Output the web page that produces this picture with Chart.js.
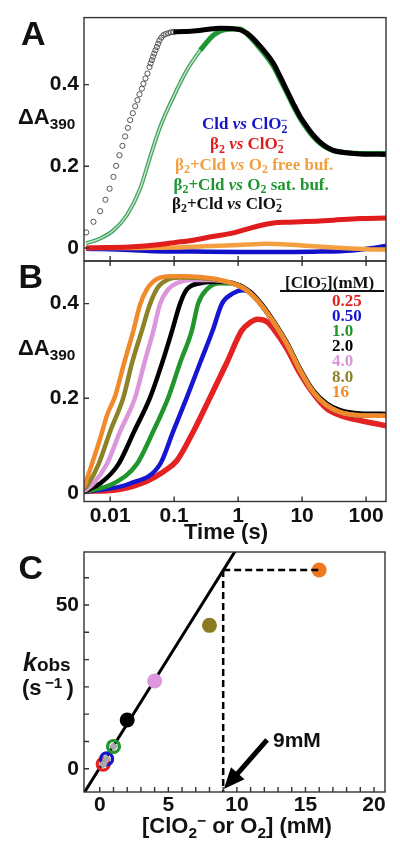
<!DOCTYPE html>
<html><head><meta charset="utf-8">
<script src="https://cdn.jsdelivr.net/npm/chart.js@4.4.1/dist/chart.umd.min.js"></script>
<style>
html,body{margin:0;padding:0;background:#fff;}
#wrap{position:relative;width:400px;height:846px;overflow:hidden;background:#fff;}
canvas{position:absolute;left:0;top:0;width:400px;height:846px;}
.t{position:absolute;white-space:nowrap;line-height:1;transform:translateY(-50%);font-family:"Liberation Sans",Arial,sans-serif;font-weight:bold;color:#111;}
.c{transform:translate(-50%,-50%);}
.s{font-family:"Liberation Serif","Times New Roman",serif;font-size:17px;}
.t sub,.t sup{font-size:0.7em;line-height:0;vertical-align:baseline;position:relative;}
.t sub{top:0.3em;}
.t sup{top:-0.45em;}
.m{margin-left:-0.55em;}
</style></head><body><div id="wrap">
<canvas id="cA" width="400" height="846"></canvas>
<canvas id="cB" width="400" height="846"></canvas>
<canvas id="cC" width="400" height="846"></canvas>

<div class="t" style="left:21px;top:33px;font-size:34px">A</div>
<div class="t" style="left:18px;top:117px;font-size:22px">ΔA<sub>390</sub></div>
<div class="t s" style="left:202px;top:123px;color:#1414c8">Cld <i>vs</i> ClO<sub>2</sub><sup class="m">−</sup></div>
<div class="t s" style="left:210px;top:143px;color:#dc1e1e">β<sub>2</sub> <i>vs</i> ClO<sub>2</sub><sup class="m">−</sup></div>
<div class="t s" style="left:175px;top:163.5px;color:#f0a040">β<sub>2</sub>+Cld <i>vs</i> O<sub>2</sub> free buf.</div>
<div class="t s" style="left:173.5px;top:183.5px;color:#1e9632">β<sub>2</sub>+Cld <i>vs</i> O<sub>2</sub> sat. buf.</div>
<div class="t s" style="left:172px;top:202.5px;color:#111">β<sub>2</sub>+Cld <i>vs</i> ClO<sub>2</sub><sup class="m">−</sup></div>

<div class="t" style="left:18.5px;top:276px;font-size:34px">B</div>
<div class="t" style="left:18px;top:348px;font-size:22px">ΔA<sub>390</sub></div>
<div class="t s" style="left:285px;top:281.5px;color:#111">[ClO<sub>2</sub><sup class="m">−</sup>](mM)</div>
<div style="position:absolute;left:280px;top:290px;width:104px;height:1.5px;background:#111"></div>
<div id="bLegend"></div>
<div class="t c" style="left:226px;top:532px;font-size:22px">Time (s)</div>

<div class="t" style="left:18.5px;top:567px;font-size:34px">C</div>
<div class="t" style="left:23px;top:662px;font-size:19px"><i style="font-size:25px">k</i>obs</div>
<div class="t" style="left:22px;top:688px;font-size:22px">(s<sup>&thinsp;−1</sup>&thinsp;)</div>
<div class="t" style="left:273px;top:739px;font-size:21px">9mM</div>
<div class="t c" style="left:237px;top:826px;font-size:22px">[ClO<sub>2</sub><sup>−</sup> or O<sub>2</sub>] (mM)</div>
</div>
<script>
// ================= DATA =================
// Panel A & B shared axes
const timeTicks = [0.01, 0.1, 1, 10, 100];
const absTicks = [0, 0.2, 0.4];

// Panel A : [time (s), ΔA390]
const aBlackCircles = [[0.00422,0.038],[0.00548,0.064],[0.00698,0.090],[0.00845,0.118],[0.0098,0.145],[0.01126,0.174],[0.0124,0.201],[0.01397,0.227],[0.01556,0.250],[0.01714,0.273],[0.0189,0.294],[0.02054,0.313],[0.0226,0.330],[0.0246,0.347],[0.0267,0.362],[0.0287,0.376],[0.0313,0.390],[0.0331,0.402],[0.0356,0.415],[0.0383,0.427],[0.0412,0.443],[0.0430,0.452],[0.0448,0.460],[0.0467,0.468],[0.0488,0.476],[0.0511,0.484],[0.0537,0.492],[0.0562,0.500],[0.0589,0.508],[0.0630,0.515],[0.0681,0.521],[0.0740,0.524],[0.0814,0.526],[0.0890,0.528],[0.0976,0.529]];
const aBlackLine = [[0.0976,0.529],[0.14,0.530],[0.2,0.531],[0.324,0.535],[0.523,0.538],[0.845,0.537],[1.37,0.526],[2.21,0.494],[3.56,0.452],[4.53,0.420],[5.77,0.386],[7.31,0.353],[9.31,0.322],[11.8,0.298],[15.0,0.276],[19.1,0.259],[24.3,0.247],[30.8,0.239],[49.9,0.233],[80.6,0.230],[205,0.229]];
const aGreenEarly = [[0.0042,0.011],[0.00698,0.023],[0.01126,0.043],[0.0182,0.080],[0.0294,0.145],[0.0422,0.223],[0.0604,0.296],[0.0976,0.370],[0.158,0.435],[0.255,0.484]];
const aGreenLate = [[0.255,0.484],[0.411,0.521],[0.665,0.535],[1.07,0.536],[1.37,0.524],[2.21,0.488],[3.56,0.445],[4.53,0.413],[5.77,0.380],[7.31,0.347],[9.31,0.317],[11.8,0.293],[15.0,0.272],[19.1,0.256],[24.3,0.245],[30.8,0.238],[49.9,0.233],[80.6,0.231],[205,0.231]];
const aRed = [[0.0042,0.0],[0.01,0.001],[0.023,0.003],[0.05,0.007],[0.1,0.013],[0.2,0.019],[0.4,0.028],[0.85,0.037],[1.37,0.046],[2.21,0.055],[3.56,0.061],[5.77,0.063],[9.31,0.064],[19.1,0.066],[30.8,0.068],[80.6,0.072],[205,0.073]];
const aOrange = [[0.0042,0.0],[0.03,0.0],[0.1,0.001],[0.3,0.004],[1,0.007],[2.8,0.010],[5,0.009],[10,0.006],[30,0.001],[100,-0.003],[205,-0.004]];
const aBlue = [[0.0042,-0.002],[0.02,-0.005],[0.05,-0.008],[0.2,-0.009],[1,-0.010],[5,-0.010],[20,-0.009],[60,-0.006],[120,-0.001],[205,0.005]];

// Panel B : [time (s), ΔA390] per [ClO2-]
const bConc = ['0.25','0.50','1.0','2.0','4.0','8.0','16'];
const bColors = ['#e42222','#1616d2','#22962c','#000000','#dc96dc','#8c8228','#f08a2a'];
const bRed = [[0.0039,0.003],[0.0143,0.008],[0.0374,0.025],[0.0681,0.045],[0.110,0.068],[0.200,0.13],[0.365,0.202],[0.665,0.275],[1.14,0.343],[1.54,0.360],[2.02,0.367],[2.81,0.362],[3.56,0.347],[5.77,0.305],[9.31,0.252],[15.0,0.210],[24.3,0.178],[39.2,0.164],[80.6,0.153],[205,0.142]];
const bBlue = [[0.0039,0.002],[0.0205,0.020],[0.0604,0.061],[0.0966,0.13],[0.158,0.202],[0.255,0.275],[0.40,0.343],[0.56,0.40],[0.845,0.422],[1.15,0.428],[1.54,0.425]];
const bGreen = [[0.0039,0.002],[0.0113,0.020],[0.0261,0.061],[0.047,0.13],[0.0813,0.202],[0.124,0.275],[0.189,0.343],[0.237,0.40],[0.324,0.43],[0.523,0.443],[0.845,0.442]];
const bBlack = [[0.0039,0.003],[0.00698,0.020],[0.0135,0.061],[0.0237,0.13],[0.0422,0.202],[0.065,0.275],[0.093,0.343],[0.124,0.400],[0.158,0.43],[0.255,0.443],[0.523,0.446],[0.845,0.443],[1.37,0.430],[2.21,0.403],[3.56,0.364],[5.77,0.318],[9.31,0.262],[15.0,0.216],[24.3,0.189],[39.2,0.175],[80.6,0.168],[205,0.167]];
const bViolet = [[0.0039,0.004],[0.00548,0.020],[0.00888,0.061],[0.0143,0.13],[0.0246,0.202],[0.0343,0.275],[0.0475,0.343],[0.0604,0.400],[0.0805,0.430],[0.110,0.443],[0.178,0.450],[0.365,0.450],[0.845,0.442]];
const bOlive = [[0.0039,0.008],[0.0046,0.020],[0.0066,0.061],[0.01,0.13],[0.0161,0.202],[0.022,0.275],[0.0313,0.343],[0.0422,0.400],[0.0562,0.435],[0.0769,0.450],[0.124,0.455],[0.255,0.454],[0.523,0.449],[0.845,0.442]];
const bOrange = [[0.0039,0.012],[0.00407,0.019],[0.00518,0.061],[0.00698,0.115],[0.00897,0.165],[0.01197,0.205],[0.01655,0.275],[0.0231,0.343],[0.0294,0.398],[0.0374,0.430],[0.0475,0.447],[0.0604,0.455],[0.0866,0.458],[0.14,0.458],[0.255,0.456],[0.523,0.450],[0.845,0.442]];
const bDecay = [[1.37,0.428],[2.21,0.400],[3.56,0.361],[5.77,0.315],[9.31,0.259],[15.0,0.213],[24.3,0.185],[39.2,0.171],[80.6,0.164],[205,0.163]];

// Panel C : kobs vs concentration
const cConc = [0.25, 0.5, 1, 2, 4, 8, 16];
const cKobs = [1.4, 3.0, 6.8, 14.9, 26.8, 43.8, 60.7];
const cColors = ['#e42222','#1616d2','#22962c','#000000','#dc96dc','#8c7a22','#f07820'];
const cOpen = [true, true, true, false, false, false, false];
const cFit = {slope: 6.7, intercept: 0.3};
const cSaturation = {conc: 9, kobs: 60.7};
const cArrowFrom = [12.2, 8.8];
const cArrowTip = [9.05, -6.2];
const cXLabels = [0, 5, 10, 15, 20];
const cXMinor = [0,1,2,3,4,5,6,7,8,9,10,11,12,13,14,15,16,17,18,19,20];
const cYLabels = [0, 50];
const cYMinor = [0, 8.33, 16.67, 25, 33.33, 41.67, 50, 58.33];

// ================= HELPERS =================
const SANS = "'Liberation Sans', Arial, Helvetica, sans-serif";
const tickFont = {family: SANS, size: 21, weight: 'bold'};
const pts = arr => arr.map(p => ({x: p[0], y: p[1]}));
const withDecay = rise => rise.concat(bDecay.filter(p => p[0] > rise[rise.length - 1][0]));

function line(data, color, width, extra) {
  return Object.assign({data: pts(data), showLine: true, borderColor: color, backgroundColor: color,
    borderWidth: width, pointRadius: 0, fill: false, cubicInterpolationMode: 'monotone'}, extra || {});
}

function frame(cfg) {
  return {
    id: 'frame',
    afterDraw(chart) {
      const {ctx, chartArea: a, scales} = chart;
      ctx.save();
      ctx.strokeStyle = '#333'; ctx.lineWidth = 1.4;
      ctx.strokeRect(a.left, a.top, a.right - a.left, a.bottom - a.top);
      const L = 5;
      ctx.beginPath();
      (cfg.xBottom || []).forEach(v => { const x = scales.x.getPixelForValue(v); ctx.moveTo(x, a.bottom); ctx.lineTo(x, a.bottom - L); });
      (cfg.xTop || []).forEach(v => { const x = scales.x.getPixelForValue(v); ctx.moveTo(x, a.top); ctx.lineTo(x, a.top + L); });
      (cfg.yLeft || []).forEach(v => { const y = scales.y.getPixelForValue(v); ctx.moveTo(a.left, y); ctx.lineTo(a.left + L, y); });
      ctx.stroke();
      ctx.restore();
    }
  };
}

const hidden = {display: false, drawTicks: false};
function yScale(min, max, ticks, cb) {
  return {type: 'linear', min, max,
    afterFit: s => { s.width = 84; },
    afterBuildTicks: s => { s.ticks = ticks.map(v => ({value: v})); },
    ticks: {padding: 5, font: tickFont, color: '#111', callback: cb},
    grid: hidden, border: {display: false}};
}
function xLog(showLabels, h) {
  return {type: 'logarithmic', min: 0.0039, max: 205,
    afterFit: s => { s.height = h; },
    afterBuildTicks: s => { s.ticks = timeTicks.map(v => ({value: v})); },
    ticks: {display: showLabels, padding: 2, font: tickFont, color: '#111', maxRotation: 0, autoSkip: false,
      callback: v => String(v)},
    grid: hidden, border: {display: false}};
}
function baseOptions(scales, pad) {
  return {responsive: false, animation: false, devicePixelRatio: 1, events: [],
    layout: {padding: pad},
    plugins: {legend: {display: false}, tooltip: {enabled: false}},
    scales};
}
const absLabel = v => v === 0 ? '0' : v.toFixed(1);

// ================= PANEL A =================
new Chart(document.getElementById('cA'), {
  type: 'scatter',
  data: {datasets: [
    line(aBlackLine, '#000', 5),
    {data: pts(aBlackCircles), showLine: false, pointStyle: 'circle', pointRadius: 2.6, borderWidth: 0.9,
     borderColor: '#444', backgroundColor: 'rgba(0,0,0,0)'},
    line(aGreenEarly, 'rgba(255,255,255,0.75)', 1.3),
    line(aGreenEarly, 'rgba(40,150,70,0.85)', 4),
    line(aGreenLate, '#1e9632', 5),
    line(aRed, '#e01c1c', 5),
    line(aOrange, '#f5a040', 4.5),
    line(aBlue, '#1010c8', 4.5)
  ]},
  options: baseOptions({x: xLog(false, 0), y: yScale(-0.032, 0.564, absTicks, absLabel)},
    {left: 0, top: 17, right: 14, bottom: 846 - 261}),
  plugins: [frame({xBottom: timeTicks, yLeft: absTicks})]
});

// ================= PANEL B =================
const bSeries = [bRed, withDecay(bBlue), withDecay(bGreen), bBlack, withDecay(bViolet), withDecay(bOlive), withDecay(bOrange)];
const bDatasets = [];
for (let i = bSeries.length - 1; i >= 0; i--) {
  bDatasets.push(line(bSeries[i], bColors[i], i === 0 ? 5.5 : 4.5));
}
new Chart(document.getElementById('cB'), {
  type: 'scatter',
  data: {datasets: bDatasets},
  options: baseOptions({x: xLog(true, 45), y: yScale(-0.018, 0.490, absTicks, absLabel)},
    {left: 0, top: 261, right: 14, bottom: 846 - 501.5 - 45}),
  plugins: [frame({xBottom: timeTicks, xTop: timeTicks, yLeft: absTicks})]
});

const leg = document.getElementById('bLegend');
bConc.forEach((c, i) => {
  const d = document.createElement('div');
  d.className = 't s';
  d.style.left = '332px';
  d.style.top = (300 + i * 15.1) + 'px';
  d.style.color = bColors[i];
  d.textContent = c;
  leg.appendChild(d);
});

// ================= PANEL C =================
const cXmin = -1.15, cXmax = 20.8, cYmin = -7.1, cYmax = 66.2;
const arrowPlugin = {
  id: 'arrow',
  afterDatasetsDraw(chart) {
    const {ctx, scales: {x, y}} = chart;
    const x0 = x.getPixelForValue(cArrowFrom[0]), y0 = y.getPixelForValue(cArrowFrom[1]);
    const x1 = x.getPixelForValue(cArrowTip[0]), y1 = y.getPixelForValue(cArrowTip[1]);
    const dx = x1 - x0, dy = y1 - y0, len = Math.hypot(dx, dy), ux = dx / len, uy = dy / len;
    const hl = 21, hw = 9;
    const bx = x1 - ux * hl, by = y1 - uy * hl;
    ctx.save();
    ctx.strokeStyle = '#000'; ctx.fillStyle = '#000'; ctx.lineWidth = 5;
    ctx.beginPath(); ctx.moveTo(x0, y0); ctx.lineTo(bx + ux * 2, by + uy * 2); ctx.stroke();
    ctx.beginPath(); ctx.moveTo(x1, y1);
    ctx.lineTo(bx - uy * hw, by + ux * hw); ctx.lineTo(bx + uy * hw, by - ux * hw); ctx.closePath(); ctx.fill();
    ctx.restore();
  }
};
const fitPts = [[cXmin - 0.2, cFit.intercept + cFit.slope * (cXmin - 0.2)], [10.5, cFit.intercept + cFit.slope * 10.5]];
const cPointData = cConc.map((c, i) => ({x: c, y: cKobs[i]}));
const openIdx = cOpen.map((o, i) => o ? i : -1).filter(i => i >= 0);
new Chart(document.getElementById('cC'), {
  type: 'scatter',
  data: {datasets: [
    line([[cSaturation.conc, cSaturation.kobs], [cConc[6], cSaturation.kobs]], '#000', 2.5, {borderDash: [7, 4], cubicInterpolationMode: 'default'}),
    line([[cSaturation.conc, cSaturation.kobs], [cSaturation.conc, cYmin]], '#000', 2.5, {borderDash: [7, 4], cubicInterpolationMode: 'default'}),
    {data: openIdx.map(i => cPointData[i]), showLine: false, pointStyle: 'rectRot', pointRadius: 4.5,
     backgroundColor: '#a8a8a8', borderColor: '#a8a8a8', borderWidth: 0},
    {data: cPointData, showLine: false, pointStyle: 'circle', pointRadius: cOpen.map(o => o ? 6 : 7.5),
     borderWidth: cOpen.map(o => o ? 3.2 : 0), borderColor: cColors,
     backgroundColor: cColors.map((c, i) => cOpen[i] ? 'rgba(255,255,255,0)' : c)},
    line(fitPts, '#000', 3, {cubicInterpolationMode: 'default'})
  ]},
  options: baseOptions({
    x: {type: 'linear', min: cXmin, max: cXmax,
      afterFit: s => { s.height = 40; },
      afterBuildTicks: s => { s.ticks = cXLabels.map(v => ({value: v})); },
      ticks: {padding: 1, font: tickFont, color: '#111', maxRotation: 0, autoSkip: false, callback: v => String(v)},
      grid: hidden, border: {display: false}},
    y: yScale(cYmin, cYmax, cYLabels, v => String(v))
  }, {left: 0, top: 552, right: 15, bottom: 846 - 792 - 40}),
  plugins: [frame({xBottom: cXMinor, yLeft: cYMinor}), arrowPlugin]
});
</script>
</body></html>
